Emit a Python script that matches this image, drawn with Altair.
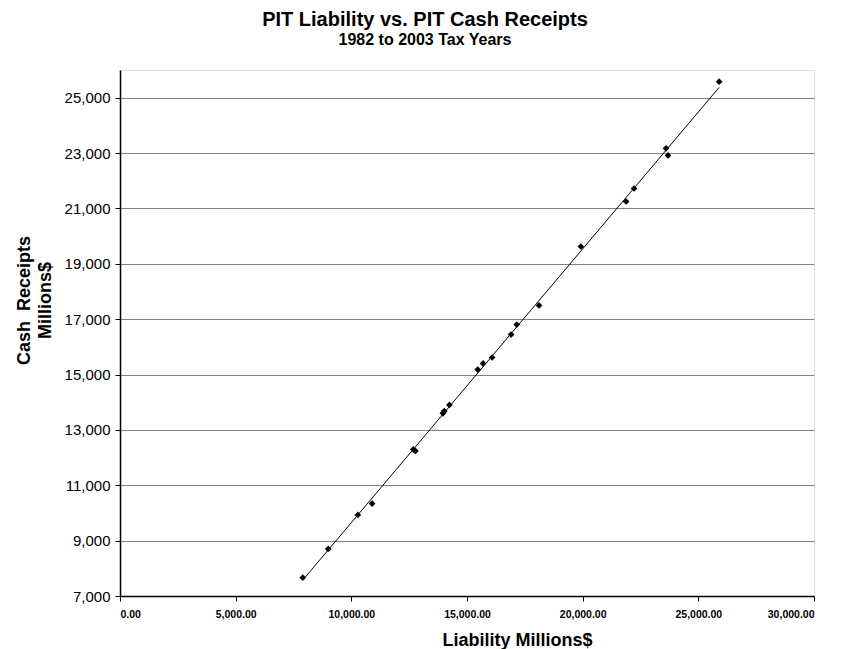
import altair as alt
import pandas as pd

liability = [7900, 9000, 10280, 10900, 12680, 12770, 13960, 14020, 14240,
             15465, 15695, 16085, 16905, 17150, 18115, 19920,
             21880, 22220, 23605, 23690, 25900]
receipts = [7660, 8700, 9930, 10340, 12300, 12240, 13600, 13680, 13900,
            15180, 15400, 15615, 16445, 16805, 17495, 19625,
            21250, 21720, 23170, 22915, 25580]

df = pd.DataFrame({"Liability": liability, "Receipts": receipts})

font = "Liberation Sans"

xenc = alt.X("Liability:Q",
             scale=alt.Scale(domain=[0, 30000], nice=False, zero=False),
             axis=alt.Axis(values=[0, 5000, 10000, 15000, 20000, 25000, 30000],
                           format=",.2f", title="Liability Millions$",
                           grid=False, labelFont=font, labelFontWeight="bold",
                           labelFontSize=10.5, labelColor="black",
                           titleFont=font, titleFontSize=18, titleFontWeight="bold",
                           titleColor="black", titleX=397, titleY=49,
                           titleBaseline="alphabetic", titleAlign="center",
                           domainColor="black", domainWidth=1.5,
                           tickColor="black", tickSize=5, labelPadding=8))
yenc = alt.Y("Receipts:Q",
             scale=alt.Scale(domain=[7000, 26000], nice=False, zero=False),
             axis=alt.Axis(values=[7000, 9000, 11000, 13000, 15000, 17000,
                                   19000, 21000, 23000, 25000],
                           format=",d", title=["Cash\u00a0 Receipts", "Millions$"],
                           grid=True, gridColor="#808080", gridWidth=1,
                           labelFont=font, labelFontSize=15, labelColor="black",
                           titleFont=font, titleFontSize=18, titleFontWeight="bold",
                           titleColor="black", titleLineHeight=21,
                           titleX=-87, titleY=230, titleAngle=270,
                           titleBaseline="bottom", titleAlign="center",
                           domainColor="black", domainWidth=1.5,
                           tickColor="black", tickSize=5, labelPadding=5))

points = alt.Chart(df).mark_point(shape="diamond", filled=True, color="black",
                                  size=45, opacity=1).encode(x=xenc, y=yenc)

line = alt.Chart(df).transform_regression("Liability", "Receipts").mark_line(
    color="black", strokeWidth=1).encode(x="Liability:Q", y="Receipts:Q")

chart = (line + points).properties(
    width=694, height=526,
    title=alt.TitleParams(text="PIT Liability vs. PIT Cash Receipts",
                          subtitle="1982 to 2003 Tax Years",
                          font=font, fontSize=20, fontWeight="bold", color="black",
                          subtitleFont=font, subtitleFontSize=16,
                          subtitleFontWeight="bold", subtitleColor="black",
                          subtitlePadding=2, anchor="middle", dx=-42, offset=22),
    autosize=alt.AutoSizeParams(type="none"),
    padding={"left": 112, "top": 62, "right": 22, "bottom": 53},
).configure_view(stroke="#808080", strokeWidth=1).configure(background="white")

chart.save("out.html", embed_options={"renderer": "svg", "actions": False})
